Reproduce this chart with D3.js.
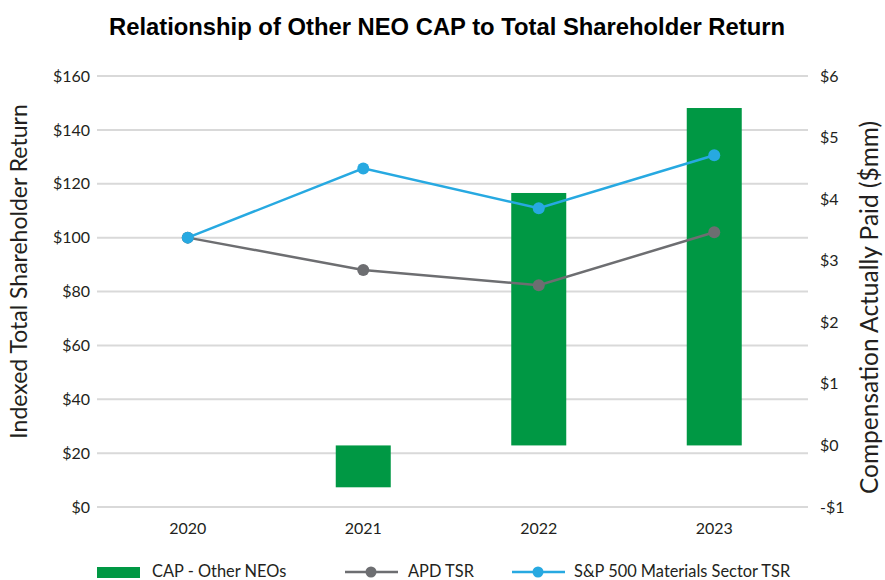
<!DOCTYPE html>
<html>
<head>
<meta charset="utf-8">
<script src="https://cdn.jsdelivr.net/npm/d3@7/dist/d3.min.js"></script>
<style>
  html, body { margin: 0; padding: 0; background: #fff; }
  svg { display: block; }
  .tick-label { font-family: Lato, "Open Sans", sans-serif; font-size: 16px; fill: #231f20; }
  .axis-title { font-family: Lato, "Open Sans", sans-serif; fill: #231f20; }
  .legend-label { font-family: Lato, "Open Sans", sans-serif; font-size: 16.4px; fill: #231f20; }
</style>
</head>
<body>
<svg id="chart" width="885" height="580"></svg>
<script>
// Fiscal years on the x axis
const years = ["2020", "2021", "2022", "2023"];
// Compensation actually paid to other NEOs, $mm (right axis)
const capOtherNeos = [null, -0.68, 4.1, 5.48];
// Indexed TSR, $100 invested at the start of 2020 (left axis)
const apdTsr = [100, 88, 82.3, 102];
const spMaterialsTsr = [100, 125.7, 110.9, 130.6];
// Axis tick values
const leftTicks = [0, 20, 40, 60, 80, 100, 120, 140, 160];
const rightTicks = [-1, 0, 1, 2, 3, 4, 5, 6];

const colors = { cap: "#009844", apd: "#6d6e71", sp: "#27a9e1", grid: "#d9d9d9" };

const svg = d3.select("#chart");
const plot = { left: 100, right: 802, top: 76, bottom: 507 };

const x = d3.scaleBand().domain(years).range([plot.left, plot.right]);
const yL = d3.scaleLinear().domain([0, 160]).range([plot.bottom, plot.top]);
const yR = d3.scaleLinear().domain([-1, 6]).range([plot.bottom, plot.top]);
const cx = d => x(d) + x.bandwidth() / 2;

// Title
svg.append("text")
  .attr("x", 447).attr("y", 35)
  .attr("text-anchor", "middle")
  .style("font-family", "'Liberation Sans', Arial, sans-serif")
  .style("font-weight", "bold")
  .style("font-size", "23.8px")
  .style("fill", "#000")
  .text("Relationship of Other NEO CAP to Total Shareholder Return");

// Horizontal gridlines (extend slightly past the plot as tick marks)
svg.append("g").selectAll("line")
  .data(leftTicks)
  .join("line")
  .attr("x1", plot.left - 3).attr("x2", plot.right + 6)
  .attr("y1", d => yL(d)).attr("y2", d => yL(d))
  .attr("stroke", colors.grid).attr("stroke-width", 2);

// Left axis labels
const leftAxis = d3.axisLeft(yL).tickValues(leftTicks).tickFormat(d => "$" + d).tickSize(0).tickPadding(10);
const gL = svg.append("g").attr("transform", `translate(${plot.left},0)`).call(leftAxis);
gL.select(".domain").remove();
gL.selectAll("text").attr("class", "tick-label").attr("font-family", null).attr("font-size", null);

// Right axis labels
const rightAxis = d3.axisRight(yR).tickValues(rightTicks)
  .tickFormat(d => (d < 0 ? "-$" + Math.abs(d) : "$" + d)).tickSize(0).tickPadding(18);
const gR = svg.append("g").attr("transform", `translate(${plot.right},0)`).call(rightAxis);
gR.select(".domain").remove();
gR.selectAll("text").attr("class", "tick-label").attr("font-family", null).attr("font-size", null);

// Year labels
const xAxis = d3.axisBottom(x).tickSize(0).tickPadding(16);
const gX = svg.append("g").attr("transform", `translate(0,${plot.bottom})`).call(xAxis);
gX.select(".domain").remove();
gX.selectAll("text").attr("class", "tick-label").attr("font-family", null).attr("font-size", null);

// Axis titles
svg.append("text").attr("class", "axis-title")
  .style("font-size", "23px")
  .attr("transform", `translate(27,${(plot.top + plot.bottom) / 2 - 20}) rotate(-90)`)
  .attr("text-anchor", "middle")
  .text("Indexed Total Shareholder Return");
svg.append("text").attr("class", "axis-title")
  .style("font-size", "24.5px")
  .attr("transform", `translate(878,${(plot.top + plot.bottom) / 2 + 16}) rotate(-90)`)
  .attr("text-anchor", "middle")
  .text("Compensation Actually Paid ($mm)");

// CAP bars
const barW = 55;
svg.append("g").selectAll("rect")
  .data(years.map((yr, i) => ({ yr, v: capOtherNeos[i] })).filter(d => d.v !== null))
  .join("rect")
  .attr("x", d => cx(d.yr) - barW / 2)
  .attr("width", barW)
  .attr("y", d => Math.min(yR(0), yR(d.v)))
  .attr("height", d => Math.abs(yR(d.v) - yR(0)))
  .attr("fill", colors.cap);

// TSR lines with markers
function drawSeries(values, color) {
  const pts = years.map((yr, i) => [cx(yr), yL(values[i])]);
  svg.append("path")
    .attr("d", d3.line()(pts))
    .attr("fill", "none").attr("stroke", color).attr("stroke-width", 2.5);
  svg.append("g").selectAll("circle")
    .data(pts).join("circle")
    .attr("cx", d => d[0]).attr("cy", d => d[1]).attr("r", 6)
    .attr("fill", color);
}
drawSeries(apdTsr, colors.apd);
drawSeries(spMaterialsTsr, colors.sp);

// Legend
const ly = 571;
const legend = svg.append("g");
legend.append("rect").attr("x", 97).attr("y", ly - 4).attr("width", 43).attr("height", 11).attr("fill", colors.cap);
legend.append("text").attr("class", "legend-label").attr("x", 152).attr("y", ly + 6).text("CAP - Other NEOs");

legend.append("line").attr("x1", 345).attr("x2", 398).attr("y1", ly + 1).attr("y2", ly + 1)
  .attr("stroke", colors.apd).attr("stroke-width", 2.5);
legend.append("circle").attr("cx", 371).attr("cy", ly + 1).attr("r", 5.5).attr("fill", colors.apd);
legend.append("text").attr("class", "legend-label").attr("x", 408).attr("y", ly + 6).text("APD TSR");

legend.append("line").attr("x1", 512).attr("x2", 565).attr("y1", ly + 1).attr("y2", ly + 1)
  .attr("stroke", colors.sp).attr("stroke-width", 2.5);
legend.append("circle").attr("cx", 538).attr("cy", ly + 1).attr("r", 5.5).attr("fill", colors.sp);
legend.append("text").attr("class", "legend-label").attr("x", 574).attr("y", ly + 6).text("S&P 500 Materials Sector TSR");
</script>
</body>
</html>
